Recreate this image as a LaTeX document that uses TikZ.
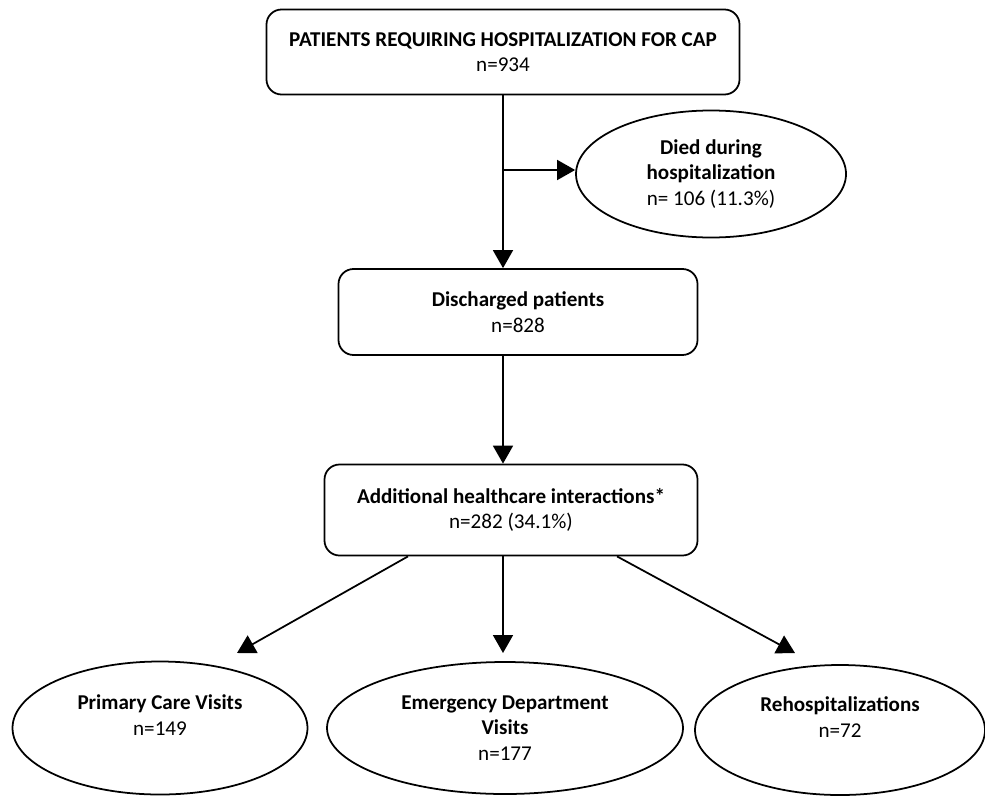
\documentclass[tikz,border=0pt]{standalone}
\usepackage{fontspec}
\setmainfont{Carlito}
\usetikzlibrary{shapes.geometric,arrows.meta}

\begin{document}
\begin{tikzpicture}[scale=1.0,
  boxstyle/.style={rectangle,rounded corners=0.3cm,draw,line width=1pt,align=center,font=\fontsize{12}{14.6}\selectfont},
  ovalstyle/.style={ellipse,draw,line width=1pt,align=center,inner sep=0pt,font=\fontsize{12}{14.6}\selectfont},
  arrowstyle/.style={line width=1pt,-{Triangle[width=0.4cm,length=0.36cm]}}]
  \useasboundingbox (0,0) rectangle (19.7,15.92);

  \node [boxstyle,minimum width=9.46cm,minimum height=1.7cm] (cap) at (10.06,14.88)
    {\textbf{PATIENTS REQUIRING HOSPITALIZATION FOR CAP}\\n=934};
  \node [ovalstyle,minimum width=5.4cm,minimum height=2.54cm] (died) at (14.22,12.44)
    {\textbf{Died during}\\\textbf{hospitalization}\\n= 106 (11.3\%)};
  \node [boxstyle,minimum width=7.18cm,minimum height=1.72cm] (disch) at (10.36,9.68)
    {\textbf{Discharged patients}\\n=828};
  \node [boxstyle,minimum width=7.46cm,minimum height=1.82cm] (addl) at (10.22,5.72)
    {\textbf{Additional healthcare interactions*}\\n=282 (34.1\%)};
  \node [ovalstyle,minimum width=5.9cm,minimum height=2.66cm] (pcv) at (3.2,1.36)
    {\textbf{Primary Care Visits}\\n=149\\\mbox{}};
  \node [ovalstyle,minimum width=7.12cm,minimum height=2.64cm] (edv) at (10.1,1.36)
    {\textbf{Emergency Department}\\\textbf{Visits}\\n=177};
  \node [ovalstyle,minimum width=5.8cm,minimum height=2.6cm] (reh) at (16.8,1.32)
    {\textbf{Rehospitalizations}\\n=72\\\mbox{}};

  \coordinate (split) at (10.06,12.52);
  \coordinate (pcvtip) at (4.74,2.86);
  \coordinate (edvtip) at (10.06,2.86);
  \coordinate (rehtip) at (15.9,2.86);

  \draw [arrowstyle] (cap.south) -- (cap.south |- disch.north);
  \draw [arrowstyle] (split) -- (split -| died.west);
  \draw [arrowstyle] ([xshift=-0.3cm]disch.south) -- ([xshift=-0.3cm]disch.south |- addl.north);
  \foreach \dx/\tip in {-2.06/pcvtip,-0.16/edvtip,2.12/rehtip}
    \draw [arrowstyle] ([xshift=\dx cm]addl.south) -- (\tip);
\end{tikzpicture}
\end{document}
